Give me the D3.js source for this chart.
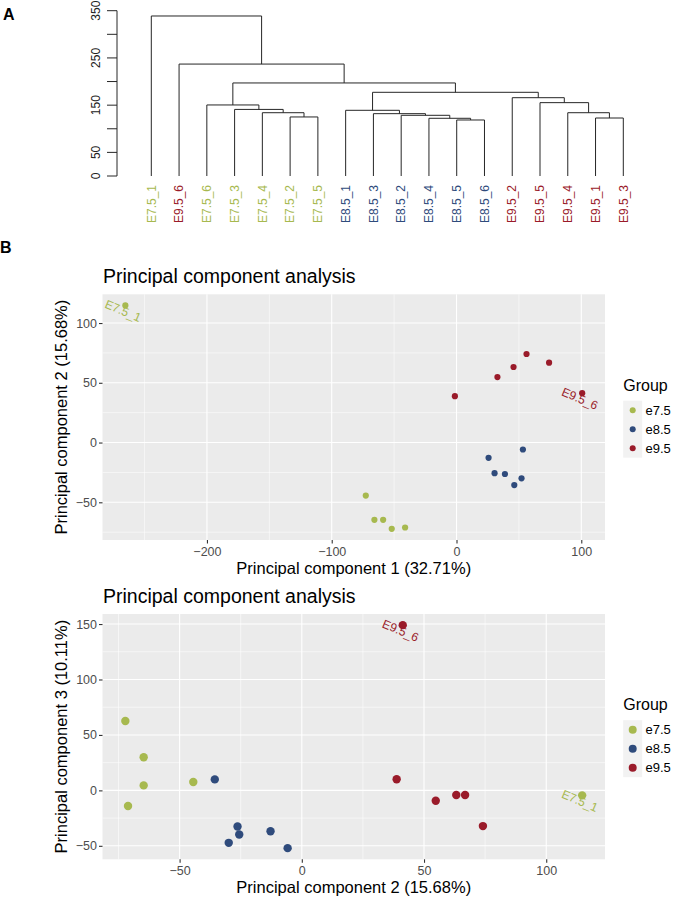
<!DOCTYPE html>
<html><head><meta charset="utf-8">
<script src="https://cdn.jsdelivr.net/npm/d3@7"></script>
<style>body{margin:0;background:#fff}svg{display:block;font-family:"Liberation Sans",Arial,Helvetica,sans-serif}</style>
</head><body><svg id="c" width="676" height="897"></svg>
<script>
// ---------- shared ----------
const groups = ["e7.5", "e8.5", "e9.5"];
const groupColors = ["#A7B94F", "#2F4B7C", "#9A1B2A"];

// ---------- dendrogram data (hclust-like) ----------
const leafLabels = ["E7.5_1","E9.5_6","E7.5_6","E7.5_3","E7.5_4","E7.5_2","E7.5_5","E8.5_1","E8.5_3","E8.5_2","E8.5_4","E8.5_5","E8.5_6","E9.5_2","E9.5_5","E9.5_4","E9.5_1","E9.5_3"];
// numbers refer to earlier merges (1-based), strings to leaves
const mergeLeft  = ["E7.5_2","E7.5_4","E7.5_3","E7.5_6","E8.5_5","E8.5_4","E8.5_2","E8.5_3","E8.5_1","E9.5_1","E9.5_4","E9.5_5","E9.5_2",9,4,"E9.5_6","E7.5_1"];
const mergeRight = ["E7.5_5",1,2,3,"E8.5_6",5,6,7,8,"E9.5_3",10,11,12,13,14,15,16];
const mergeHeights = [125,134,141,150.4,118.6,122.2,128.5,132,139.1,122.8,134,155.3,165.8,177.2,197,237,338.8];
const heightTicks = [0,50,100,150,200,250,300,350];
const heightTickLabels = [0,50,150,250,350];

// ---------- PCA data ----------
const sampleNames = ["E7.5_1","E7.5_2","E7.5_3","E7.5_4","E7.5_5","E7.5_6","E8.5_1","E8.5_2","E8.5_3","E8.5_4","E8.5_5","E8.5_6","E9.5_1","E9.5_2","E9.5_3","E9.5_4","E9.5_5","E9.5_6"];
const sampleGroup = ["e7.5","e7.5","e7.5","e7.5","e7.5","e7.5","e8.5","e8.5","e8.5","e8.5","e8.5","e8.5","e9.5","e9.5","e9.5","e9.5","e9.5","e9.5"];
const pc1 = [-265.4,-72.7,-65.8,-58.8,-51.9,-41.2, 53.2,25.7,30.5,38.8,52.1,46.3, -1.3,32.8,45.7,56.1,74.2,100.7];
const pc2 = [114.7,-44.4,-64.7,-64.7,-72.2,-71.1, -5.8,-12.8,-25.6,-26.3,-29.9,-35.6, 38.8,54.8,63.2,74.1,66.8,41.3];
const pc3 = [-4.5,7.5,29.9,4.5,62.6,-14.1, -52.1,-36.8,-39.8,-32.6,-47.3,9.9, 10,-9.4,-4.2,-32.2,-4.2,149];
const labeledSamples = ["E7.5_1","E9.5_6"];
const pcaTitle = "Principal component analysis";
const pc1Label = "Principal component 1 (32.71%)";
const pc2Label = "Principal component 2 (15.68%)";
const pc3Label = "Principal component 3 (10.11%)";
const plot1XTicks = [-200,-100,0,100];
const plot1YTicks = [-50,0,50,100];
const plot2XTicks = [-50,0,50,100];
const plot2YTicks = [-50,0,50,100,150];

const color = d3.scaleOrdinal().domain(groups).range(groupColors);
const svg = d3.select("#c");
svg.append("rect").attr("width",676).attr("height",897).attr("fill","#fff");

// panel letters
svg.append("text").attr("x",3).attr("y",20).attr("font-size",16).attr("font-weight","bold").text("A");
svg.append("text").attr("x",0).attr("y",253).attr("font-size",16).attr("font-weight","bold").text("B");

// ---------- Dendrogram ----------
(function(){
  const xLeaf = d3.scalePoint().domain(leafLabels).range([151.3, 623.3]);
  const h = d3.scaleLinear().domain([0,350]).range([176, 10.7]);
  const g = svg.append("g");
  const nodes = [];
  function pos(ref){
    if (typeof ref === "string") return {x: xLeaf(ref), h: 0};
    return nodes[ref-1];
  }
  mergeHeights.forEach((ht,i)=>{
    const L = pos(mergeLeft[i]), R = pos(mergeRight[i]);
    nodes.push({x:(L.x+R.x)/2, h:ht});
    g.append("path")
      .attr("d", `M${L.x},${h(L.h)}V${h(ht)}H${R.x}V${h(R.h)}`)
      .attr("fill","none").attr("stroke","#262626").attr("stroke-width",1);
  });
  // axis
  const ax = g.append("g").attr("transform","translate(117,0)");
  ax.append("line").attr("y1",h(0)).attr("y2",h(350)).attr("stroke","#262626");
  ax.selectAll("line.t").data(heightTicks).join("line").attr("class","t")
    .attr("x1",0).attr("x2",-10).attr("y1",d=>h(d)).attr("y2",d=>h(d)).attr("stroke","#262626");
  g.selectAll("text.ht").data(heightTickLabels).join("text").attr("class","ht")
    .attr("transform",d=>`translate(100,${h(d)}) rotate(-90)`)
    .attr("text-anchor","middle").attr("font-size",12).attr("fill","#222").text(d=>d);
  // leaf labels
  g.selectAll("text.leaf").data(leafLabels).join("text").attr("class","leaf")
    .attr("transform",d=>`translate(${xLeaf(d)},185) rotate(-90)`)
    .attr("text-anchor","end").attr("dy","0.35em").attr("font-size",12)
    .attr("fill",d=>color("e"+d.slice(1,4)))
    .text(d=>d);
})();

// ---------- PCA panels ----------
function expand(arr){
  const [a,b] = d3.extent(arr); const m = (b-a)*0.05; return [a-m, b+m];
}
function minorOf(ticks, dom){
  const step = ticks[1]-ticks[0];
  const out = [];
  for (let t = ticks[0]-step/2; t <= ticks[ticks.length-1]+step/2+1e-9; t += step) {
    if (t>=dom[0] && t<=dom[1]) out.push(t);
  }
  return out;
}
function pcaPanel(opt){
  const {top, bottom, xs, ys, xTicks, yTicks, xLabel, yLabel, r, legendR} = opt;
  const left = 102.5, right = 605;
  const xDom = expand(xs), yDom = expand(ys);
  const x = d3.scaleLinear().domain(xDom).range([left,right]);
  const y = d3.scaleLinear().domain(yDom).range([bottom,top]);
  const g = svg.append("g");
  g.append("rect").attr("x",left).attr("y",top).attr("width",right-left).attr("height",bottom-top).attr("fill","#EBEBEB");
  // minor grid
  g.selectAll("line.mx").data(minorOf(xTicks,xDom)).join("line")
    .attr("x1",d=>x(d)).attr("x2",d=>x(d)).attr("y1",top).attr("y2",bottom).attr("stroke","#fff").attr("stroke-width",0.55);
  g.selectAll("line.my").data(minorOf(yTicks,yDom)).join("line")
    .attr("y1",d=>y(d)).attr("y2",d=>y(d)).attr("x1",left).attr("x2",right).attr("stroke","#fff").attr("stroke-width",0.55);
  // major grid
  g.selectAll("line.gx").data(xTicks).join("line")
    .attr("x1",d=>x(d)).attr("x2",d=>x(d)).attr("y1",top).attr("y2",bottom).attr("stroke","#fff").attr("stroke-width",1.1);
  g.selectAll("line.gy").data(yTicks).join("line")
    .attr("y1",d=>y(d)).attr("y2",d=>y(d)).attr("x1",left).attr("x2",right).attr("stroke","#fff").attr("stroke-width",1.1);
  // axes
  const fmt = d3.format("d");
  const ax = g.append("g").attr("transform",`translate(0,${bottom})`)
    .call(d3.axisBottom(x).tickValues(xTicks).tickSize(3.5).tickSizeOuter(0).tickPadding(3.5).tickFormat(fmt));
  const ay = g.append("g").attr("transform",`translate(${left},0)`)
    .call(d3.axisLeft(y).tickValues(yTicks).tickSize(3.5).tickSizeOuter(0).tickPadding(2).tickFormat(fmt));
  [ax,ay].forEach(a=>{
    a.select(".domain").remove();
    a.selectAll(".tick line").attr("stroke","#333").attr("stroke-width",1.1);
    a.selectAll(".tick text").attr("fill","#4D4D4D").attr("font-size",12.5).attr("font-family","Liberation Sans, Arial, sans-serif");
  });
  // titles
  g.append("text").attr("x",103).attr("y",top-11).attr("font-size",19.5).attr("fill","#000").text(pcaTitle);
  g.append("text").attr("x",(left+right)/2).attr("y",bottom+33.5).attr("text-anchor","middle").attr("font-size",16.5).text(xLabel);
  g.append("text").attr("transform",`translate(67,${(top+bottom)/2}) rotate(-90)`).attr("text-anchor","middle").attr("font-size",16.5).text(yLabel);
  // points
  const idx = d3.range(sampleNames.length);
  g.selectAll("circle.p").data(idx).join("circle")
    .attr("cx",i=>x(xs[i])).attr("cy",i=>y(ys[i])).attr("r",r).attr("fill",i=>color(sampleGroup[i]));
  // labels
  g.selectAll("text.lab").data(idx.filter(i=>labeledSamples.includes(sampleNames[i]))).join("text")
    .attr("transform",i=>`translate(${x(xs[i])},${y(ys[i])}) rotate(23)`)
    .attr("text-anchor","middle").attr("y",10).attr("font-size",12)
    .attr("fill",i=>color(sampleGroup[i])).text(i=>sampleNames[i]);
  // legend
  const cy = (top+bottom)/2;
  const lg = g.append("g");
  lg.append("text").attr("x",623.3).attr("y",cy-26.5).attr("font-size",16).text("Group");
  const k0 = cy-7, ks = 19;
  lg.append("rect").attr("x",623.2).attr("y",k0-ks/2).attr("width",19).attr("height",ks*groups.length).attr("fill","#F2F2F2");
  lg.selectAll("circle").data(groups).join("circle")
    .attr("cx",632.7).attr("cy",(d,i)=>k0+i*ks).attr("r",legendR).attr("fill",d=>color(d));
  lg.selectAll("text.lt").data(groups).join("text").attr("class","lt")
    .attr("x",645.5).attr("y",(d,i)=>k0+i*ks).attr("dy","0.36em").attr("font-size",13).attr("fill","#000").text(d=>d);
}

pcaPanel({top:294.3, bottom:540, xs:pc1, ys:pc2, xTicks:plot1XTicks, yTicks:plot1YTicks, xLabel:pc1Label, yLabel:pc2Label, r:3.1, legendR:3});
pcaPanel({top:614, bottom:859.3, xs:pc2, ys:pc3, xTicks:plot2XTicks, yTicks:plot2YTicks, xLabel:pc2Label, yLabel:pc3Label, r:4.2, legendR:4});
</script></body></html>
